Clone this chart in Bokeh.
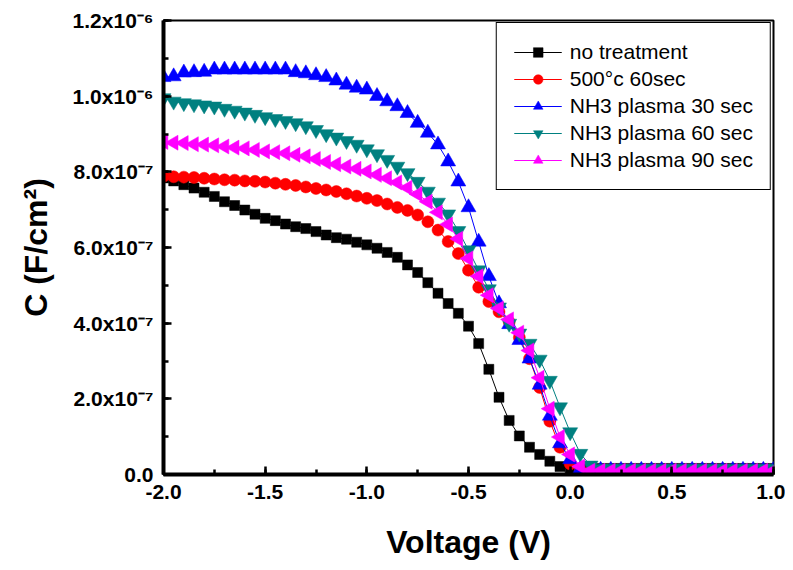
import numpy as np
from bokeh.plotting import figure
from bokeh.models import Range1d, SingleIntervalTicker, CustomJSTickFormatter
from bokeh.embed import file_html
from bokeh.resources import INLINE

# Gate voltage (V)
voltage = [-2.00, -1.95, -1.90, -1.85, -1.80, -1.75, -1.70, -1.65, -1.60, -1.55,
           -1.50, -1.45, -1.40, -1.35, -1.30, -1.25, -1.20, -1.15, -1.10, -1.05,
           -1.00, -0.95, -0.90, -0.85, -0.80, -0.75, -0.70, -0.65, -0.60, -0.55,
           -0.50, -0.45, -0.40, -0.35, -0.30, -0.25, -0.20, -0.15, -0.10, -0.05,
           0.00, 0.05, 0.10, 0.15, 0.20, 0.25, 0.30, 0.35, 0.40, 0.45,
           0.50, 0.55, 0.60, 0.65, 0.70, 0.75, 0.80, 0.85, 0.90, 0.95, 1.00]

# Capacitance, in units of 1e-7 F/cm^2
c_no_treatment = [7.84, 7.76, 7.66, 7.57, 7.46, 7.35, 7.21, 7.11, 6.99, 6.88,
                  6.77, 6.71, 6.62, 6.55, 6.50, 6.42, 6.33, 6.26, 6.22, 6.14,
                  6.07, 5.98, 5.87, 5.74, 5.54, 5.34, 5.07, 4.79, 4.52, 4.26,
                  3.92, 3.46, 2.78, 2.04, 1.43, 1.02, 0.72, 0.53, 0.35, 0.21,
                  0.14, 0.16, 0.16, 0.16, 0.16, 0.16, 0.16, 0.16, 0.16, 0.16,
                  0.16, 0.16, 0.16, 0.16, 0.16, 0.16, 0.16, 0.16, 0.16, 0.16, 0.16]
c_500c_60sec = [7.88, 7.87, 7.86, 7.85, 7.83, 7.81, 7.79, 7.78, 7.76, 7.75,
                7.73, 7.70, 7.67, 7.64, 7.60, 7.56, 7.52, 7.48, 7.42, 7.36,
                7.30, 7.24, 7.15, 7.06, 6.98, 6.86, 6.68, 6.46, 6.16, 5.84,
                5.40, 4.95, 4.57, 4.30, 4.03, 3.62, 3.06, 2.30, 1.41, 0.72,
                0.28, 0.11, 0.08, 0.08, 0.08, 0.08, 0.08, 0.08, 0.08, 0.08,
                0.08, 0.08, 0.08, 0.08, 0.08, 0.08, 0.08, 0.08, 0.08, 0.08, 0.08]
c_nh3_30 = [10.50, 10.52, 10.62, 10.63, 10.64, 10.70, 10.70, 10.70, 10.70, 10.70,
            10.70, 10.70, 10.70, 10.63, 10.60, 10.55, 10.50, 10.41, 10.30, 10.22,
            10.17, 10.00, 9.86, 9.73, 9.55, 9.29, 9.03, 8.72, 8.27, 7.74,
            7.06, 6.15, 5.24, 4.52, 3.97, 3.55, 3.06, 2.37, 1.55, 0.82,
            0.40, 0.15, 0.12, 0.12, 0.12, 0.12, 0.12, 0.12, 0.12, 0.12,
            0.12, 0.12, 0.12, 0.12, 0.12, 0.12, 0.12, 0.12, 0.12, 0.12, 0.12]
c_nh3_60 = [9.95, 9.86, 9.82, 9.79, 9.76, 9.73, 9.67, 9.62, 9.57, 9.51,
            9.45, 9.40, 9.35, 9.29, 9.21, 9.11, 9.00, 8.91, 8.82, 8.72,
            8.60, 8.47, 8.32, 8.14, 7.97, 7.74, 7.48, 7.19, 6.88, 6.44,
            5.93, 5.40, 4.90, 4.42, 3.99, 3.73, 3.46, 3.04, 2.48, 1.78,
            1.12, 0.55, 0.24, 0.15, 0.15, 0.15, 0.15, 0.15, 0.15, 0.15,
            0.15, 0.15, 0.15, 0.15, 0.15, 0.15, 0.15, 0.15, 0.15, 0.15, 0.15]
c_nh3_90 = [8.79, 8.77, 8.76, 8.73, 8.72, 8.70, 8.67, 8.64, 8.62, 8.58,
            8.54, 8.52, 8.49, 8.45, 8.41, 8.34, 8.26, 8.20, 8.14, 8.08,
            8.01, 7.92, 7.83, 7.72, 7.58, 7.41, 7.21, 6.93, 6.61, 6.23,
            5.71, 5.24, 4.74, 4.39, 4.10, 3.75, 3.28, 2.56, 1.74, 0.99,
            0.53, 0.21, 0.10, 0.10, 0.10, 0.10, 0.10, 0.10, 0.10, 0.10,
            0.10, 0.10, 0.10, 0.10, 0.10, 0.10, 0.10, 0.10, 0.10, 0.10, 0.10]

series_labels = ["no treatment", "500\u00b0c 60sec", "NH3 plasma 30 sec",
                 "NH3 plasma 60 sec", "NH3 plasma 90 sec"]
series_values = [c_no_treatment, c_500c_60sec, c_nh3_30, c_nh3_60, c_nh3_90]

UNIT = 1e-7
FONT = "Liberation Sans"

styles = [
    dict(color="black", marker="square", size=10, angle=0.0),
    dict(color="red", marker="circle", size=12, angle=0.0),
    dict(color="blue", marker="triangle", size=15, angle=0.0),
    dict(color="#008080", marker="inverted_triangle", size=15, angle=0.0),
    dict(color="#ff00ff", marker="triangle", size=15, angle=np.pi / 2),
]

p = figure(frame_width=610, frame_height=454, output_backend="svg", toolbar_location=None,
           x_range=Range1d(-2.0, 1.0), y_range=Range1d(0, 1.2e-6),
           min_border_left=163, min_border_right=12, min_border_top=20, min_border_bottom=84,
           background_fill_alpha=0, border_fill_color="white")

x = np.array(voltage)
for label, vals, st in zip(series_labels, series_values, styles):
    y = np.array(vals) * UNIT
    p.line(x, y, line_color=st["color"], line_width=1, legend_label=label)
    p.scatter(x, y, marker=st["marker"], size=st["size"], angle=st["angle"],
              fill_color=st["color"], line_color=st["color"], line_width=0.5,
              legend_label=label)

p.xgrid.grid_line_color = None
p.ygrid.grid_line_color = None
p.outline_line_color = "black"
p.outline_line_width = 2
p.outline_line_alpha = 1

p.xaxis.ticker = SingleIntervalTicker(interval=0.5, num_minor_ticks=2)
p.yaxis.ticker = SingleIntervalTicker(interval=2e-7, num_minor_ticks=2)
p.xaxis.formatter = CustomJSTickFormatter(code="""
    const t = Math.abs(tick) < 1e-9 ? 0 : tick;
    return t.toFixed(1);
""")
p.yaxis.formatter = CustomJSTickFormatter(code="""
    if (Math.abs(tick) < 1e-12) { return "0.0"; }
    const e = Math.floor(Math.log10(Math.abs(tick)) + 1e-9);
    const m = tick / Math.pow(10, e);
    const sup = {"-": "\u207b", "0": "\u2070", "1": "\u00b9", "2": "\u00b2", "3": "\u00b3",
                 "4": "\u2074", "5": "\u2075", "6": "\u2076", "7": "\u2077", "8": "\u2078", "9": "\u2079"};
    return m.toFixed(1) + "x10" + String(e).split("").map(c => sup[c]).join("");
""")

for ax in (p.xaxis[0], p.yaxis[0]):
    ax.axis_line_width = 4
    ax.axis_line_color = "black"
    ax.axis_line_alpha = 1
    ax.major_tick_in = 8
    ax.major_tick_out = 0
    ax.minor_tick_in = 5
    ax.minor_tick_out = 0
    ax.major_tick_line_width = 2.5
    ax.minor_tick_line_width = 2.5
    ax.major_tick_line_color = "black"
    ax.minor_tick_line_color = "black"
    ax.major_tick_line_alpha = 1
    ax.minor_tick_line_alpha = 1
    ax.major_label_text_font = FONT
    ax.major_label_text_font_style = "bold"
    ax.major_label_text_font_size = "21px"
    ax.major_label_text_color = "black"
    ax.axis_label_text_font = FONT
    ax.axis_label_text_font_style = "bold"
    ax.axis_label_text_font_size = "32px"
    ax.axis_label_text_color = "black"

p.xaxis.axis_label = "Voltage (V)"
p.yaxis.axis_label = "C (F/cm\u00b2)"
p.xaxis.major_label_standoff = 10
p.xaxis.axis_label_standoff = 22
p.yaxis.major_label_standoff = 10
p.yaxis.axis_label_standoff = 16

lg = p.legend[0]
lg.location = "top_right"
lg.margin = 2
lg.padding = 17
lg.spacing = 3
lg.glyph_width = 48
lg.glyph_height = 24
lg.label_height = 24
lg.label_standoff = 8
lg.label_text_font = FONT
lg.label_text_font_size = "21px"
lg.label_text_color = "black"
lg.border_line_color = "black"
lg.border_line_width = 1.5
lg.border_line_alpha = 1
lg.background_fill_color = "white"
lg.background_fill_alpha = 1

open("out.html", "w").write(file_html(p, INLINE))
